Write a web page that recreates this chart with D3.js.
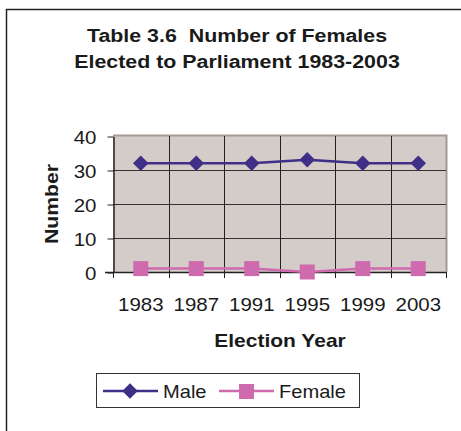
<!DOCTYPE html>
<html><head><meta charset="utf-8">
<script src="https://cdn.jsdelivr.net/npm/d3@7"></script>
<style>body{margin:0;background:#fff}svg{display:block}text{font-family:"Liberation Sans",Arial,sans-serif;fill:#1a1a1a;white-space:pre}</style>
</head><body><svg id="c" width="461" height="431"></svg>
<script>
const years = ["1983","1987","1991","1995","1999","2003"];
const male = [32,32,32,33,32,32];
const female = [1,1,1,0,1,1];
const yTicks = [0,10,20,30,40];
const titleLines = ["Table 3.6  Number of Females","Elected to Parliament 1983-2003"];

const svg = d3.select("#c");
const plot={l:113,t:136,r:446,b:272};
const maleColor="#3f2f86", femColor="#cf6aae";

function txt(g,x,y,s,{size=18.6,bold=false,anchor="start",sx=1.1,rot=0}={}){
  return g.append("text").attr("transform",`translate(${x},${y}) rotate(${rot}) scale(${sx},1)`)
    .attr("text-anchor",anchor).attr("font-size",size).attr("font-weight",bold?"bold":"normal").text(s);
}

svg.append("rect").attr("x",6.5).attr("y",9.5).attr("width",470).attr("height",440)
  .attr("fill","#fff").attr("stroke","#222").attr("stroke-width",1.5);

titleLines.forEach((t,i)=>txt(svg,237,41.5+i*26,t,{bold:true,anchor:"middle",sx:1.15,size:18.6}));

const x=d3.scaleBand().domain(years).range([plot.l,plot.r]);
const y=d3.scaleLinear().domain([0,40]).range([plot.b,plot.t]);

svg.append("rect").attr("x",plot.l).attr("y",plot.t).attr("width",plot.r-plot.l).attr("height",plot.b-plot.t)
  .attr("fill","#d3ccc8");
svg.append("path").attr("d",`M${plot.l},${plot.t-0.5}H${plot.r+0.5}V${plot.b}`).attr("fill","none")
  .attr("stroke","#a39a94").attr("stroke-width",2);

svg.append("g").selectAll("line").data(yTicks.filter(d=>d>0&&d<40)).join("line")
  .attr("x1",plot.l).attr("x2",plot.r).attr("y1",d=>y(d)+0.5).attr("y2",d=>y(d)+0.5)
  .attr("stroke","#333").attr("stroke-width",1);
const bounds=years.map(d=>x(d)).concat([plot.r]);
svg.append("g").selectAll("line").data(bounds.slice(1,-1)).join("line")
  .attr("x1",d=>Math.round(d)+0.5).attr("x2",d=>Math.round(d)+0.5).attr("y1",plot.t).attr("y2",plot.b)
  .attr("stroke","#222").attr("stroke-width",1);

// y axis
const ya=svg.append("g").attr("transform",`translate(${plot.l+0.5},0.5)`)
  .call(d3.axisLeft(y).tickValues(yTicks).tickSize(6).tickSizeOuter(0));
ya.select(".domain").attr("stroke","#222").attr("stroke-width",1.5);
ya.selectAll(".tick line").attr("stroke","#222");
ya.selectAll(".tick text").attr("x",0).attr("dy",0).attr("transform","translate(-17,7) scale(1.1,1)")
  .attr("font-size",18.6).attr("font-family","Liberation Sans, Arial, sans-serif").attr("fill","#1a1a1a");

// x axis
const xa=svg.append("g").attr("transform",`translate(0,${plot.b+0.5})`)
  .call(d3.axisBottom(x).tickSize(0));
xa.select(".domain").attr("stroke","#222").attr("stroke-width",1.5).attr("d",`M${plot.l-8},0H${plot.r}`);
xa.selectAll(".tick text").attr("y",0).attr("dy",0).attr("transform","translate(0,38) scale(1.1,1)")
  .attr("font-size",18.6).attr("font-family","Liberation Sans, Arial, sans-serif").attr("fill","#1a1a1a");
svg.append("g").selectAll("line").data(bounds).join("line")
  .attr("x1",d=>Math.round(d)+0.5).attr("x2",d=>Math.round(d)+0.5).attr("y1",plot.b).attr("y2",plot.b+6)
  .attr("stroke","#222");

// axis titles
txt(svg,58,204,"Number",{bold:true,anchor:"middle",sx:1.14,rot:-90});
txt(svg,280,346.5,"Election Year",{bold:true,anchor:"middle",sx:1.13});

const cx=d=>x(d)+x.bandwidth()/2;
const line=d3.line().x((d,i)=>cx(years[i])).y(d=>y(d));
svg.append("path").datum(female).attr("d",line).attr("fill","none").attr("stroke",femColor).attr("stroke-width",2.5);
svg.append("path").datum(male).attr("d",line).attr("fill","none").attr("stroke",maleColor).attr("stroke-width",2.5);
const diamond=d3.symbol().type(d3.symbolSquare).size(120);
svg.append("g").selectAll("path").data(male).join("path")
  .attr("d",diamond).attr("transform",(d,i)=>`translate(${cx(years[i])},${y(d)}) rotate(45)`).attr("fill",maleColor);
svg.append("g").selectAll("rect").data(female).join("rect")
  .attr("x",(d,i)=>cx(years[i])-7.5).attr("y",d=>y(d)-7.5).attr("width",15).attr("height",15).attr("fill",femColor);

// legend
const lg=svg.append("g");
lg.append("rect").attr("x",96.5).attr("y",373.5).attr("width",263).attr("height",34)
  .attr("fill","#fff").attr("stroke","#333").attr("stroke-width",1);
const items=[{n:"Male",c:maleColor,x0:103,sym:"d"},{n:"Female",c:femColor,x0:219,sym:"s"}];
items.forEach(it=>{
  lg.append("line").attr("x1",it.x0).attr("x2",it.x0+55).attr("y1",391).attr("y2",391).attr("stroke",it.c).attr("stroke-width",2.5);
  if(it.sym==="d") lg.append("path").attr("d",diamond).attr("transform",`translate(${it.x0+27},391) rotate(45)`).attr("fill",it.c);
  else lg.append("rect").attr("x",it.x0+20).attr("y",384).attr("width",15).attr("height",15).attr("fill",it.c);
  txt(lg,it.x0+60,398,it.n,{sx:1.08});
});
</script></body></html>
